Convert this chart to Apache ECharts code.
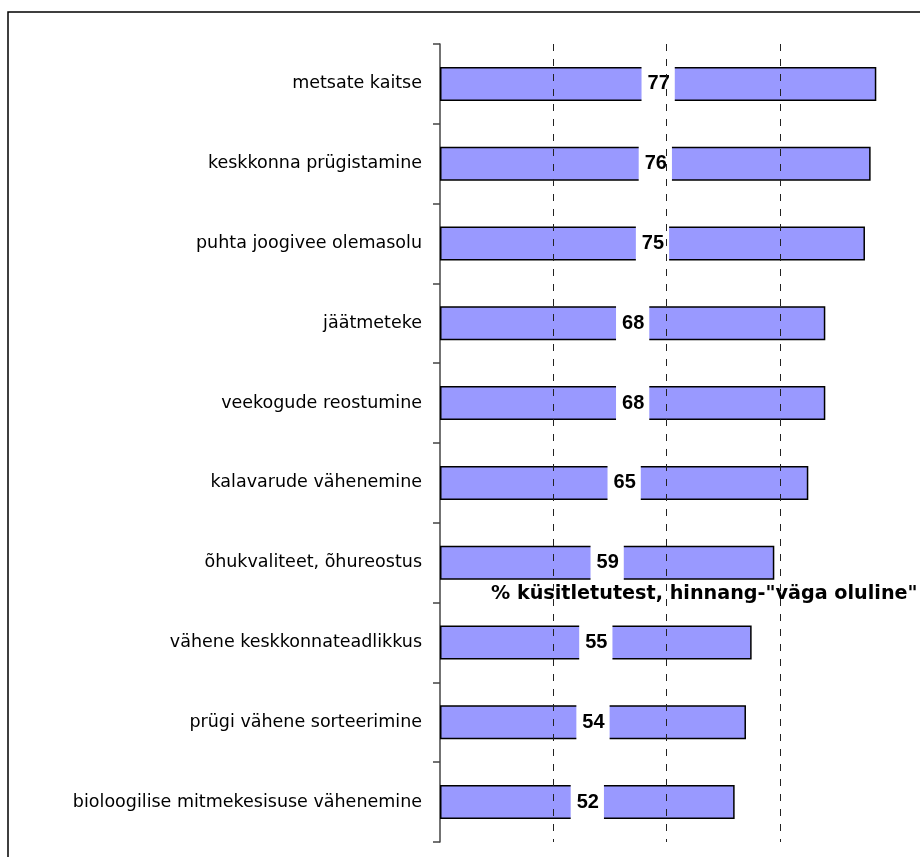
<!DOCTYPE html>
<html>
<head>
<meta charset="utf-8">
<script src="https://cdn.jsdelivr.net/npm/echarts@6/dist/echarts.min.js"></script>
<style>
html, body { margin: 0; padding: 0; background: #fff; }
#main { width: 920px; height: 857px; }
</style>
</head>
<body>
<div id="main"></div>
<script>
var categories = [
    'metsate kaitse',
    'keskkonna prügistamine',
    'puhta joogivee olemasolu',
    'jäätmeteke',
    'veekogude reostumine',
    'kalavarude vähenemine',
    'õhukvaliteet, õhureostus',
    'vähene keskkonnateadlikkus',
    'prügi vähene sorteerimine',
    'bioloogilise mitmekesisuse vähenemine'
];
var values = [77, 76, 75, 68, 68, 65, 59, 55, 54, 52];
var gridValues = [20, 40, 60];
var axisTitle = '% küsitletutest, hinnang-"väga oluline"';

var dom = document.getElementById('main');
var myChart = echarts.init(dom);
var option = {
    backgroundColor: '#fff',
    animation: false,
    graphic: [{
        type: 'rect',
        shape: { x: 8, y: 12, width: 940, height: 900 },
        style: { fill: 'none', stroke: '#000', lineWidth: 1.5 }
    }],
    title: {
        text: axisTitle,
        left: 486,
        top: 580,
        z: 10,
        textStyle: {
            fontFamily: 'DejaVu Sans',
            fontSize: 19.2,
            fontWeight: 'bold',
            color: '#000'
        }
    },
    grid: {
        left: 440,
        right: 26.7,
        top: 44,
        bottom: 15
    },
    xAxis: {
        type: 'value',
        min: 0,
        max: 80,
        interval: 20,
        show: false,
        splitLine: { show: false }
    },
    yAxis: {
        type: 'category',
        data: categories,
        inverse: true,
        axisLine: { lineStyle: { color: '#444', width: 1.5 } },
        axisTick: { show: true, interval: 0, length: 7, lineStyle: { color: '#444', width: 1.5 } },
        axisLabel: {
            interval: 0,
            fontFamily: 'DejaVu Sans',
            fontSize: 17.5,
            color: '#000',
            margin: 18
        }
    },
    series: [{
        type: 'line',
        data: [],
        z: 1,
        markLine: {
            silent: true,
            symbol: 'none',
            label: { show: false },
            lineStyle: { color: '#222', type: [7, 8], width: 1 },
            data: gridValues.map(function (v) { return { xAxis: v }; })
        }
    }, {
        type: 'bar',
        data: values,
        barWidth: 34,
        z: 2,
        itemStyle: {
            color: '#9999ff',
            borderColor: '#000',
            borderWidth: 1.5
        },
        label: {
            show: true,
            position: 'inside',
            fontFamily: 'Liberation Sans',
            fontSize: 20,
            fontWeight: 'bold',
            color: '#000',
            backgroundColor: '#fff',
            lineHeight: 20,
            padding: [8, 5, 8, 6]
        }
    }]
};
myChart.setOption(option);
</script>
</body>
</html>
